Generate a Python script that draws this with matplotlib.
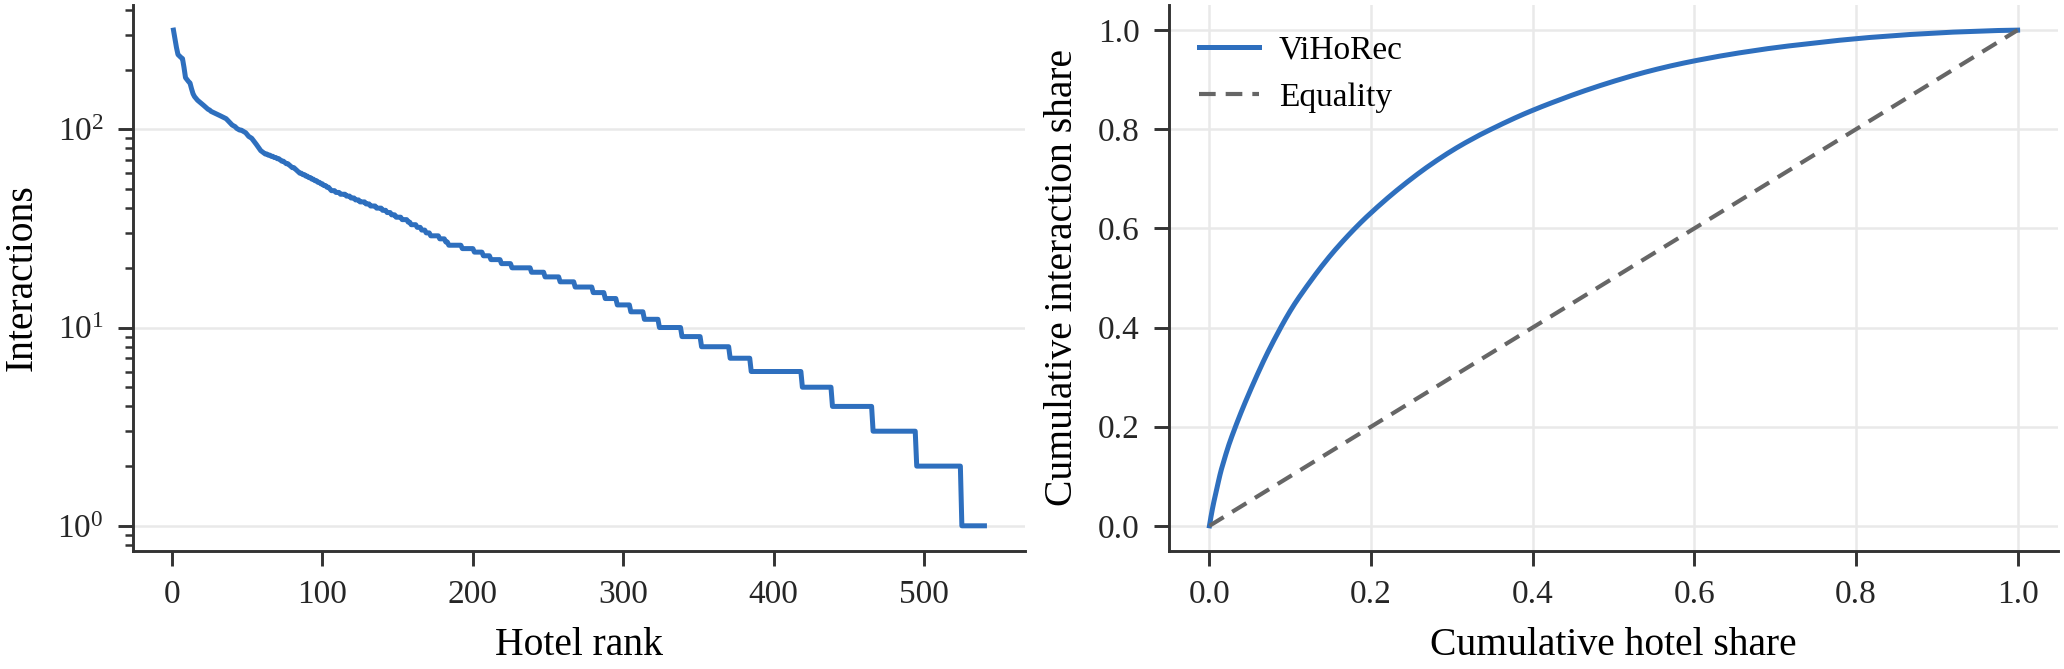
# Popularity of hotels: rank-frequency curve and Lorenz curve
import numpy as np
import matplotlib.pyplot as plt

# Interactions of the most popular hotels (ranks 1-135)
head_counts = [316, 285, 258, 238, 234, 230, 227, 205, 182, 178,
               174, 171, 160, 151, 146, 143, 140, 138, 136, 134,
               132, 130, 128, 126, 125, 123, 122, 121, 120,
               119, 118, 117, 116, 115, 114, 113, 111, 109, 107,
               105, 104, 103, 101, 100, 99, 99, 98, 97,
               96, 94, 92, 91, 90, 88, 86, 84, 82, 80,
               78, 77, 76, 75, 75, 74, 74, 73, 73, 72,
               72, 71, 71, 70, 69, 69, 68, 67, 67,
               66, 65, 64, 64, 63, 62, 61, 60, 60, 59,
               59, 58, 58, 57, 57, 56, 56, 55, 55,
               54, 54, 53, 53, 52, 52, 51, 51, 50, 49,
               49, 49, 48, 48, 48, 47, 47, 47, 47, 46,
               46, 46, 45, 45, 45, 44, 44, 44, 43,
               43, 43, 43, 42, 42, 42, 41, 41, 41, 41]

# Long tail: interaction count and number of hotels with that count
tail_values = [40, 39, 38, 37, 36, 35, 34, 33, 32, 31,
               30, 29, 28, 27, 26, 25, 24, 23, 22, 21,
               20, 19, 18, 17, 16, 15, 14, 13, 12, 11,
               10, 9, 8, 7, 6, 5, 4, 3, 2, 1]
tail_hotels = [4, 3, 3, 3, 4, 4, 2, 4, 3, 3,
               3, 6, 4, 2, 9, 8, 6, 5, 7, 7,
               13, 9, 10, 10, 12, 8, 8, 9, 9, 10,
               15, 13, 19, 14, 34, 20, 27, 29, 30, 16]

counts = np.concatenate([head_counts, np.repeat(tail_values, tail_hotels)])
rank = np.arange(1, len(counts) + 1)

# Lorenz curve (hotels sorted from most to least popular)
hotel_share = np.arange(len(counts) + 1) / len(counts)
inter_share = np.concatenate([[0], np.cumsum(counts) / counts.sum()])

blue = '#2E6FBE'
plt.rcParams['font.family'] = ['Liberation Serif', 'DejaVu Serif']
plt.rcParams['font.size'] = 8
plt.rcParams['axes.edgecolor'] = '#333333'
plt.rcParams['axes.linewidth'] = 0.7
plt.rcParams['xtick.color'] = '#333333'
plt.rcParams['ytick.color'] = '#333333'
plt.rcParams['xtick.labelcolor'] = '#262626'
plt.rcParams['ytick.labelcolor'] = '#262626'
plt.rcParams['xtick.major.width'] = 0.7
plt.rcParams['ytick.major.width'] = 0.7
plt.rcParams['ytick.minor.width'] = 0.6
plt.rcParams['xtick.major.size'] = 3.5
plt.rcParams['ytick.major.size'] = 3.5
plt.rcParams['ytick.minor.size'] = 2

fig = plt.figure(figsize=(6.88, 2.23), dpi=300)
ax1 = fig.add_axes([0.0644, 0.177, 0.4322, 0.815])
ax2 = fig.add_axes([0.5664, 0.177, 0.4307, 0.815])

# Left: rank-frequency
ax1.plot(rank, counts, color=blue, lw=1.2)
ax1.set_yscale('log')
ax1.set_xticks([0, 100, 200, 300, 400, 500])
ax1.grid(axis='y', which='major', color='#e9e9e9', lw=0.6)
ax1.set_xlabel('Hotel rank', fontsize=9.5)
ax1.set_ylabel('Interactions', fontsize=9.5)

# Right: Lorenz curve
ax2.plot(hotel_share, inter_share, color=blue, lw=1.2, label='ViHoRec')
ax2.plot([0, 1], [0, 1], color='#666666', lw=1.0, ls=(0, (4, 2.4)), label='Equality')
ax2.set_xticks([0, 0.2, 0.4, 0.6, 0.8, 1.0])
ax2.set_yticks([0, 0.2, 0.4, 0.6, 0.8, 1.0])
ax2.grid(True, color='#e9e9e9', lw=0.6)
ax2.set_xlabel('Cumulative hotel share', fontsize=9.5)
ax2.set_ylabel('Cumulative interaction share', fontsize=9.5)
ax2.legend(loc='upper left', frameon=False, fontsize=8,
           handlelength=1.8, handletextpad=0.6)

for ax in (ax1, ax2):
    ax.spines['top'].set_visible(False)
    ax.spines['right'].set_visible(False)
    ax.set_axisbelow(True)

plt.savefig('out.png', dpi=300)
